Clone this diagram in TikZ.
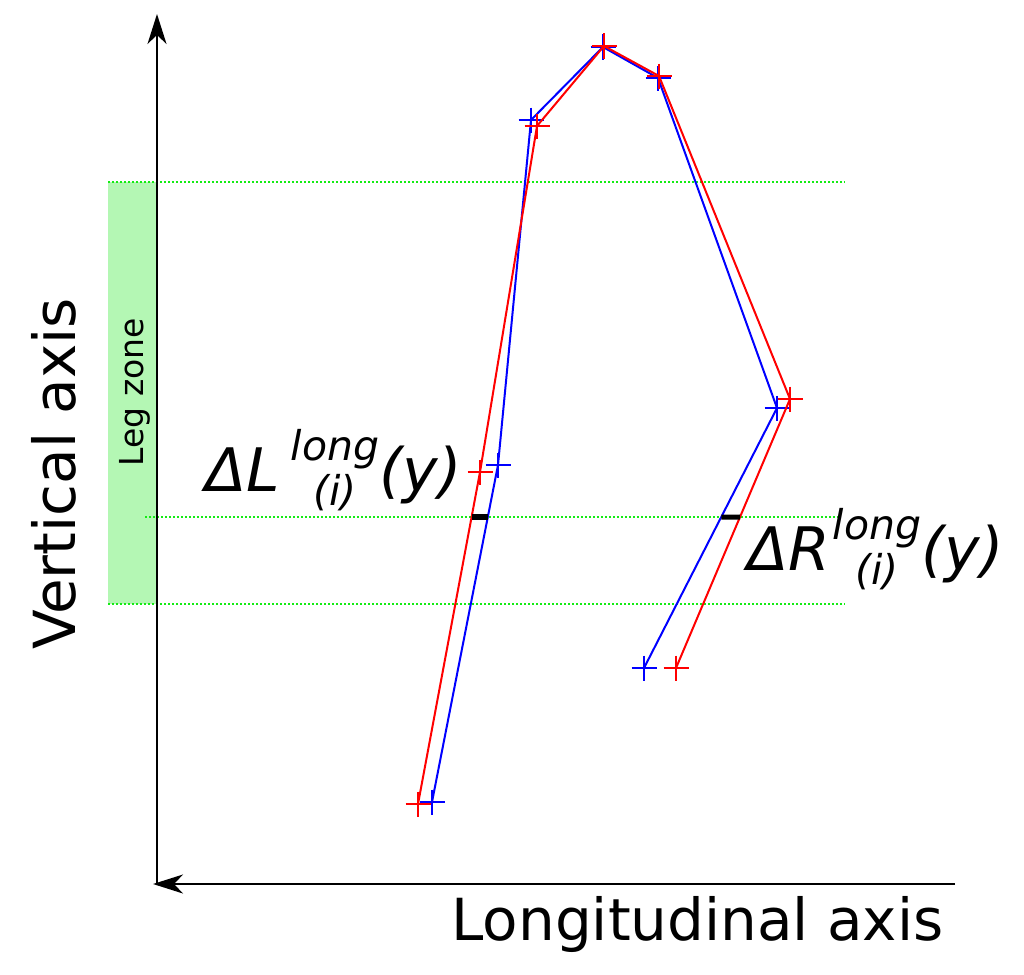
\documentclass[tikz,border=0pt]{standalone}
\usepackage{fontspec}
\setmainfont{DejaVu Sans}
\usetikzlibrary{arrows.meta}
\definecolor{zonefill}{RGB}{180,247,180}
\definecolor{zonegreen}{RGB}{20,235,20}
\newlength\lwd
\newcommand\subfnt{\fontsize{41}{41}\selectfont}
\newcommand\dlab[2]{\itshape Δ#1\hspace{#2}\settowidth\lwd{\subfnt long}\rlap{\raisebox{31pt}{\subfnt long}}\makebox[\lwd][c]{\raisebox{-14pt}{\subfnt (i)}}(y)}
\begin{document}
\begin{tikzpicture}[x=1pt,y=-1pt,
  axis/.style={line width=1.7pt,black},
  tip/.style={-{Stealth[length=30pt,width=19pt,inset=9pt]}},
  zoneline/.style={zonegreen,line width=1.7pt,dash pattern=on 1.8pt off 2.2pt},
  bluel/.style={blue,line width=2pt,line join=round},
  redl/.style={red,line width=2pt,line join=round},
  bar/.style={black,line width=5pt},
  big/.style={font=\fontsize{58}{58}\selectfont},
  lab/.style={font=\fontsize{60}{60}\selectfont},
  ]
\useasboundingbox (0,0) rectangle (1024,974);
% leg zone
\fill[zonefill] (108,182) rectangle (157,604);
\node[font=\fontsize{33}{33}\selectfont,rotate=90,anchor=base] (leg) at (143,392) {Leg zone};
\coordinate (t1) at (108,182); \coordinate (t2) at (845,182);
\coordinate (gl) at (145,517); \coordinate (gr) at (838,517);
\coordinate (d1) at (108,604); \coordinate (d2) at (845,604);
\draw[zoneline] (t1) -- (t2);
\draw[zoneline] (gl) -- (gr);
\draw[zoneline] (d1) -- (d2);
% axes
\coordinate (o) at (157,884);
\coordinate (ytip) at (157,14);
\coordinate (xend) at (955,884);
\coordinate (xtip) at (153,884);
\draw[axis,tip] (o) -- (ytip);
\draw[axis,tip] (xend) -- (xtip);
\node[big,rotate=90,anchor=base] (ylab) at (75,474) {Vertical axis};
\node[big,anchor=base east] (xlab) at (947,940) {Longitudinal axis};
% skeleton points
\coordinate (b1) at (432,802); \coordinate (b2) at (498,465);
\coordinate (b3) at (531,120); \coordinate (b4) at (603,47);
\coordinate (b5) at (658,78);  \coordinate (b6) at (777,408);
\coordinate (b7) at (644,668);
\coordinate (r1) at (418,804); \coordinate (r2) at (480,472);
\coordinate (r3) at (537,126); \coordinate (r4) at (604,46);
\coordinate (r5) at (659,76);  \coordinate (r6) at (790,399);
\coordinate (r7) at (676,668);
\draw[bluel] (b1) -- (b2) -- (b3) -- (b4) -- (b5) -- (b6) -- (b7);
\foreach \p in {b1,b2,b3,b4,b5,b6,b7}
  \draw[blue,line width=2pt] (\p) +(-12.5,0) -- +(12.5,0) (\p) +(0,-12.5) -- +(0,12.5);
\draw[redl] (r1) -- (r2) -- (r3) -- (r4) -- (r5) -- (r6) -- (r7);
\foreach \p in {r1,r2,r3,r4,r5,r6,r7}
  \draw[red,line width=2pt] (\p) +(-12.5,0) -- +(12.5,0) (\p) +(0,-12.5) -- +(0,12.5);
% differences
\coordinate (lr) at (intersection of r1--r2 and gl--gr);
\coordinate (lb) at (intersection of b1--b2 and gl--gr);
\coordinate (rb) at (intersection of b6--b7 and gl--gr);
\coordinate (rr) at (intersection of r6--r7 and gl--gr);
\draw[bar] (lr) -- (lb);
\draw[bar] (rb) -- (rr);
\node[lab,anchor=base west,inner sep=0pt] (dl) at (205,491) {\dlab{L}{11pt}};
\node[lab,anchor=base west,inner sep=0pt] (dr) at (747,570) {\dlab{R}{3pt}};
\end{tikzpicture}
\end{document}
